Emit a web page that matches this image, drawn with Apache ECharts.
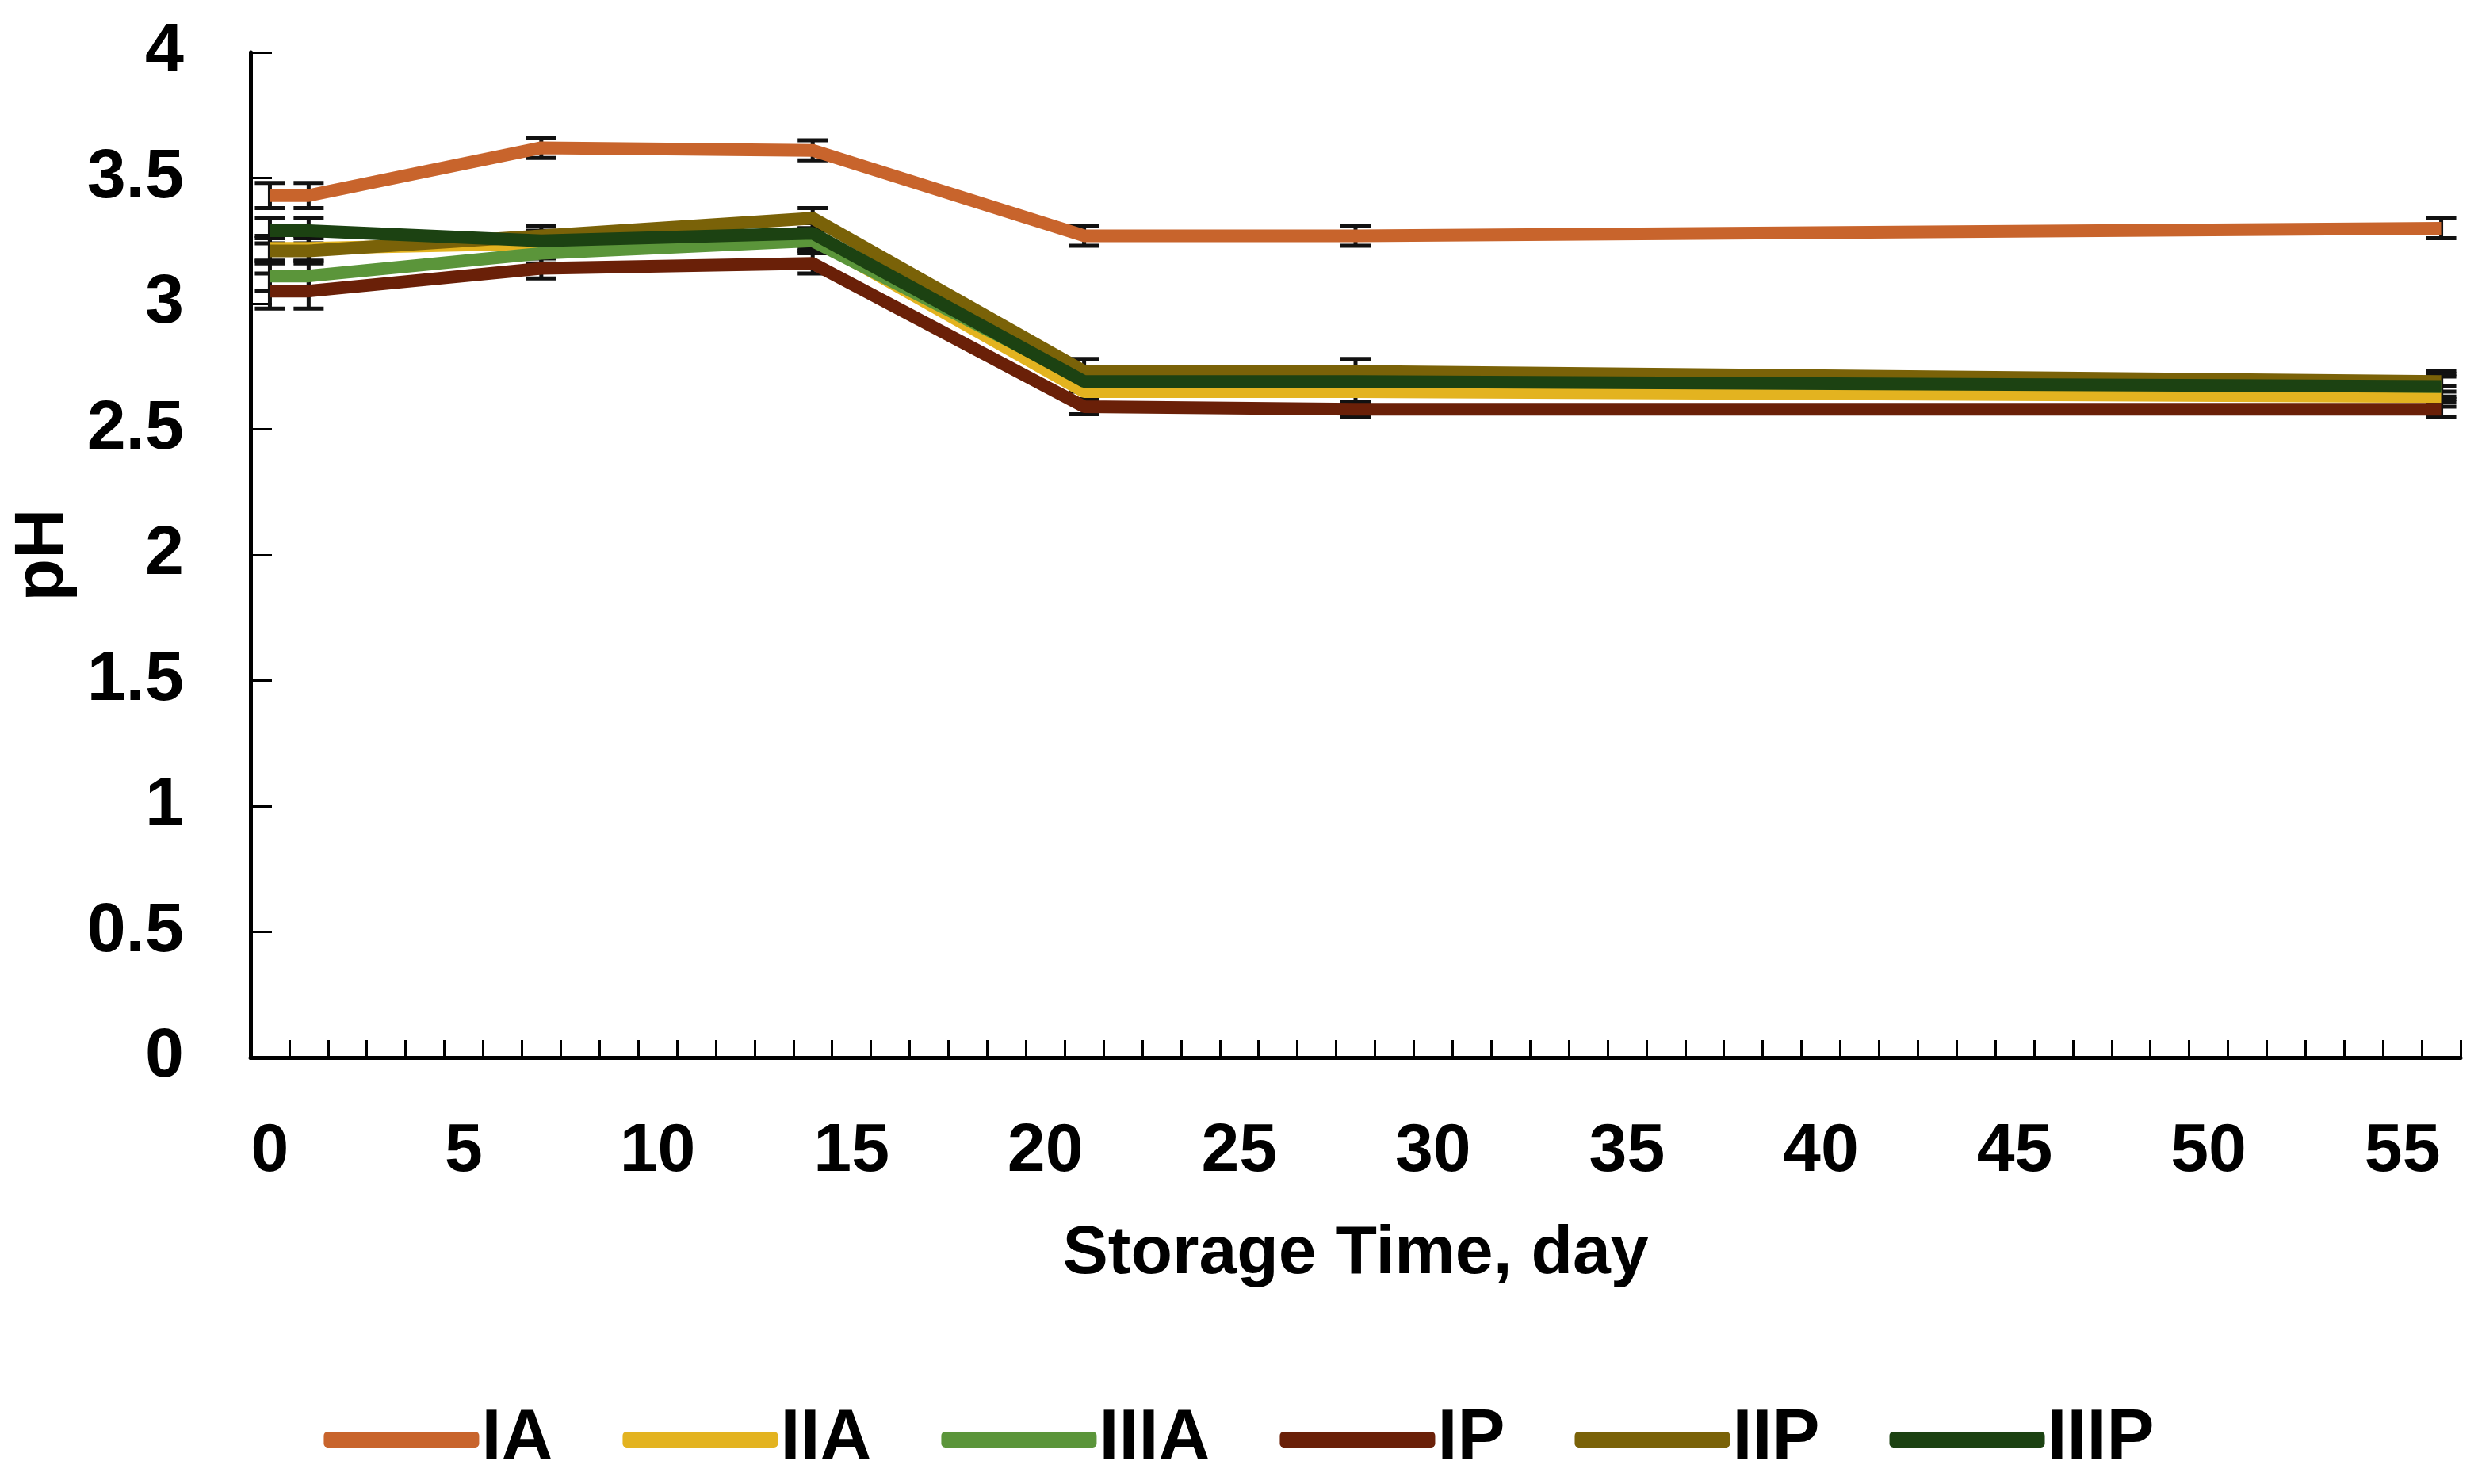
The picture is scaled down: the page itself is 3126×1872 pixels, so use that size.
<!DOCTYPE html>
<html>
<head>
<meta charset="utf-8">
<script src="https://cdn.jsdelivr.net/npm/echarts@6/dist/echarts.min.js"></script>
<style>
html,body{margin:0;padding:0;background:#fff;}
#chart{width:3126px;height:1872px;}
</style>
</head>
<body>
<div id="chart"></div>
<script>
// Storage days (category positions) and axis categories
const days = [0, 1, 7, 14, 21, 28, 56];
const categories = Array.from({length: 57}, (_, i) => String(i));
const seriesNames = ['IA', 'IIA', 'IIIA', 'IP', 'IIP', 'IIIP'];

// pH means
const IA   = [3.43, 3.43, 3.62, 3.61, 3.27, 3.27, 3.30];
const IIA  = [3.22, 3.22, 3.24, 3.26, 2.65, 2.65, 2.63];
const IIIA = [3.11, 3.11, 3.20, 3.25, 2.70, 2.70, 2.67];
const IP   = [3.05, 3.05, 3.14, 3.16, 2.59, 2.58, 2.58];
const IIP  = [3.21, 3.21, 3.27, 3.34, 2.73, 2.73, 2.69];
const IIIP = [3.29, 3.29, 3.25, 3.28, 2.69, 2.69, 2.67];

// error bar half-widths
const errIA   = [0.05, 0.05, 0.04, 0.04, 0.04, 0.04, 0.04];
const errIIA  = [0.05, 0.05, 0.04, 0.04, 0.04, 0.04, 0.04];
const errIIIA = [0.06, 0.06, 0.04, 0.04, 0.04, 0.04, 0.04];
const errIP   = [0.07, 0.07, 0.04, 0.04, 0.03, 0.03, 0.03];
const errIIP  = [0.05, 0.05, 0.04, 0.04, 0.05, 0.05, 0.04];
const errIIIP = [0.05, 0.05, 0.04, 0.04, 0.04, 0.05, 0.05];

const yTicks = {min: 0, max: 4, interval: 0.5};

const values = [IA, IIA, IIIA, IP, IIP, IIIP];
const errors = [errIA, errIIA, errIIIA, errIP, errIIP, errIIIP];
const colors = ['#C8642C', '#E3B320', '#5B953A', '#6A2008', '#7A6208', '#1C4212'];

const FONT = '"Liberation Sans", Arial, sans-serif';

const lineSeries = seriesNames.map((name, k) => ({
  name: name,
  type: 'line',
  z: 3,
  data: days.map((d, i) => [String(d), values[k][i]]),
  showSymbol: false,
  symbol: 'none',
  lineStyle: {color: colors[k], width: 16},
  itemStyle: {color: colors[k]}
}));

const errSeries = seriesNames.map((name, k) => ({
  name: name + '_err',
  type: 'custom',
  z: 2,
  silent: true,
  data: days.map((d, i) => [String(d), values[k][i] - errors[k][i], values[k][i] + errors[k][i]]),
  encode: {x: 0, y: [1, 2]},
  renderItem: function (params, api) {
    const x = api.value(0);
    const lo = api.coord([x, api.value(1)]);
    const hi = api.coord([x, api.value(2)]);
    const hw = 19;
    const st = {stroke: '#111', lineWidth: 5};
    return {
      type: 'group',
      children: [
        {type: 'line', shape: {x1: lo[0], y1: lo[1], x2: hi[0], y2: hi[1]}, style: st},
        {type: 'line', shape: {x1: lo[0] - hw, y1: lo[1], x2: lo[0] + hw, y2: lo[1]}, style: st},
        {type: 'line', shape: {x1: hi[0] - hw, y1: hi[1], x2: hi[0] + hw, y2: hi[1]}, style: st}
      ]
    };
  }
}));

const chart = echarts.init(document.getElementById('chart'));
chart.setOption({
  backgroundColor: '#ffffff',
  animation: false,
  grid: {left: 316, right: 22, top: 66, bottom: 538, containLabel: false},
  legend: {
    data: seriesNames,
    bottom: 6,
    left: 'center',
    icon: 'roundRect',
    itemWidth: 196,
    itemHeight: 20,
    itemGap: 88,
    textStyle: {fontFamily: FONT, fontWeight: 'bold', fontSize: 90, color: '#000', padding: [0, 0, 0, -2]}
  },
  xAxis: {
    type: 'category',
    data: categories,
    boundaryGap: true,
    name: 'Storage Time, day',
    nameLocation: 'middle',
    nameGap: 205,
    nameTextStyle: {fontFamily: FONT, fontWeight: 'bold', fontSize: 86, color: '#000'},
    axisLine: {lineStyle: {color: '#000', width: 5}},
    axisTick: {show: true, inside: true, length: 22, interval: 0, lineStyle: {color: '#000', width: 3}},
    axisLabel: {interval: 4, margin: 76, fontFamily: FONT, fontWeight: 'bold', fontSize: 86, color: '#000'},
    splitLine: {show: false}
  },
  yAxis: {
    type: 'value',
    min: yTicks.min,
    max: yTicks.max,
    interval: yTicks.interval,
    name: 'pH',
    nameLocation: 'middle',
    nameGap: 190,
    nameRotate: 90,
    nameTextStyle: {fontFamily: FONT, fontWeight: 'bold', fontSize: 88, color: '#000'},
    axisLine: {show: true, lineStyle: {color: '#000', width: 5}},
    axisTick: {show: true, inside: true, length: 27, lineStyle: {color: '#000', width: 3}},
    axisLabel: {margin: 84, fontFamily: FONT, fontWeight: 'bold', fontSize: 88, color: '#000'},
    splitLine: {show: false}
  },
  series: errSeries.concat(lineSeries)
});
</script>
</body>
</html>
